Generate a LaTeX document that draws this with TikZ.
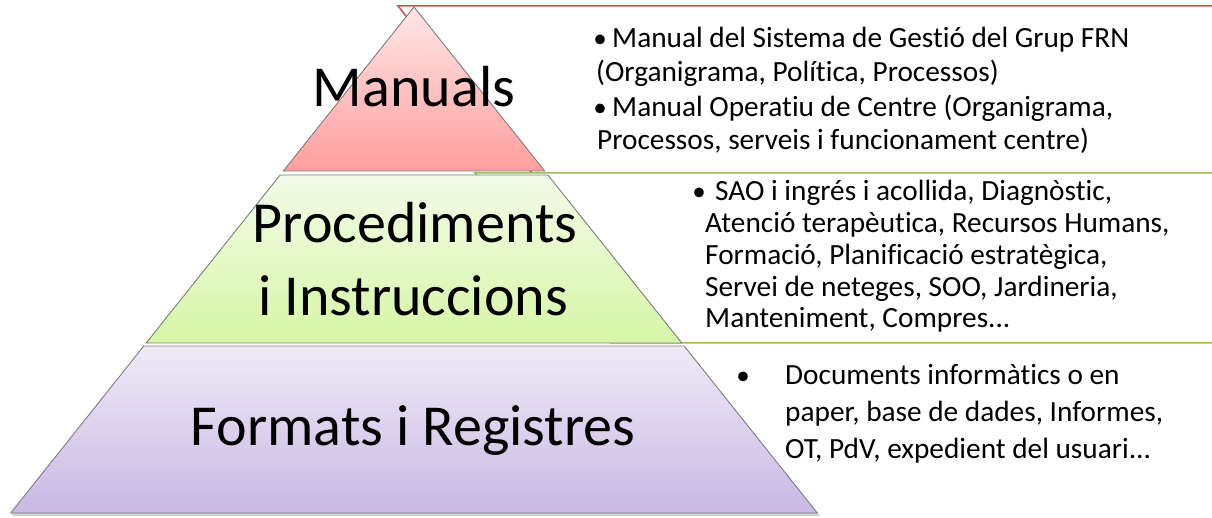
\documentclass[tikz,border=0pt]{standalone}
\usepackage{fontspec}
\setmainfont{Carlito}[Ligatures={NoCommon}]
\definecolor{redtop}{RGB}{255,230,230}
\definecolor{redbot}{RGB}{255,158,158}
\definecolor{grntop}{RGB}{243,251,232}
\definecolor{grnbot}{RGB}{214,246,166}
\definecolor{purtop}{RGB}{239,234,247}
\definecolor{purbot}{RGB}{200,184,228}
\definecolor{boxred}{RGB}{205,80,77}
\definecolor{boxgrn}{RGB}{155,190,89}
\definecolor{edgegray}{RGB}{125,125,125}
\begin{document}
\begin{tikzpicture}[x=1pt,y=-1pt,
  tier/.style={draw=edgegray, line width=0.9pt},
  infobox/.style={fill=white, line width=1.5pt},
  bigtext/.style={font=\fontsize{58}{68}\selectfont, inner sep=0pt, anchor=base},
  itemtext/.style={font=\fontsize{29.3}{34}\selectfont, inner sep=0pt, anchor=base west},
  bullettext/.style={font=\fontsize{27}{34}\selectfont, inner sep=0pt, anchor=base}]
\useasboundingbox (0,0) rectangle (1212,518);
\clip (0,0) rectangle (1212,518);
\fill[white] (0,0) rectangle (1212,518);

% pyramid key points
\coordinate (apex) at (414,7);
\coordinate (r1l) at (283.3,171); \coordinate (r1r) at (544.7,171);
\coordinate (g1l) at (280.1,175); \coordinate (g1r) at (547.9,175);
\coordinate (g2l) at (146.2,343); \coordinate (g2r) at (681.8,343);
\coordinate (p1l) at (143.8,346); \coordinate (p1r) at (684.2,346);
\coordinate (p2l) at (10.7,513);  \coordinate (p2r) at (817.3,513);

% information boxes behind the pyramid
\path[infobox] (560,343) -- (1230,343) -- (1230,513) -- (560,513) -- cycle;
\draw[infobox, draw=boxred] (398,6) -- (1230,6) -- (1230,173) -- (531.9,173) -- cycle;
\draw[infobox, draw=boxgrn] (475,173) -- (1230,173) -- (1230,343) -- (610.5,343) -- cycle;

% shadow under the pyramid base
\fill[black!18] (12,513) -- (818,513) -- (820,516) -- (13,516) -- cycle;

% pyramid tiers
\draw[tier, top color=redtop, bottom color=redbot] (apex) -- (r1r) -- (r1l) -- cycle;
\draw[tier, top color=grntop, bottom color=grnbot] (g1l) -- (g1r) -- (g2r) -- (g2l) -- cycle;
\draw[tier, top color=purtop, bottom color=purbot] (p1l) -- (p1r) -- (p2r) -- (p2l) -- cycle;

% tier labels
\node[bigtext] (tManuals) at (414,107) {Manuals};
\node[bigtext] (tProc) at (415,243) {Procediments};
\node[bigtext] (tInst) at (413,316) {i Instruccions};
\node[bigtext] (tForm) at (413,445) {Formats i Registres};

% red box text
\node[bullettext] (rb1) at (600,48) {•};
\node[itemtext] (r1) at (612,48) {Manual del Sistema de Gestió del Grup FRN};
\node[itemtext] (r2) at (596,82) {(Organigrama, Política, Processos)};
\node[bullettext] (rb2) at (600,117) {•};
\node[itemtext] (r3) at (612,117) {Manual Operatiu de Centre (Organigrama,};
\node[itemtext] (r4) at (597,150) {Processos, serveis i funcionament centre)};

% green box text
\node[bullettext] (gb1) at (699,201) {•};
\node[itemtext] (g1) at (715,201) {SAO i ingrés i acollida, Diagnòstic,};
\node[itemtext] (g2) at (705,233) {Atenció terapèutica, Recursos Humans,};
\node[itemtext] (g3) at (705,265) {Formació, Planificació estratègica,};
\node[itemtext] (g4) at (705,297) {Servei de neteges, SOO, Jardineria,};
\node[itemtext] (g5) at (705,328) {Manteniment, Compres...};

% purple box text
\node[bullettext] (pb1) at (743,384) {•};
\node[itemtext] (p1) at (785,384) {Documents informàtics o en};
\node[itemtext] (p2) at (785,421) {paper, base de dades, Informes,};
\node[itemtext] (p3) at (785,458) {OT, PdV, expedient del usuari...};
\end{tikzpicture}
\end{document}
